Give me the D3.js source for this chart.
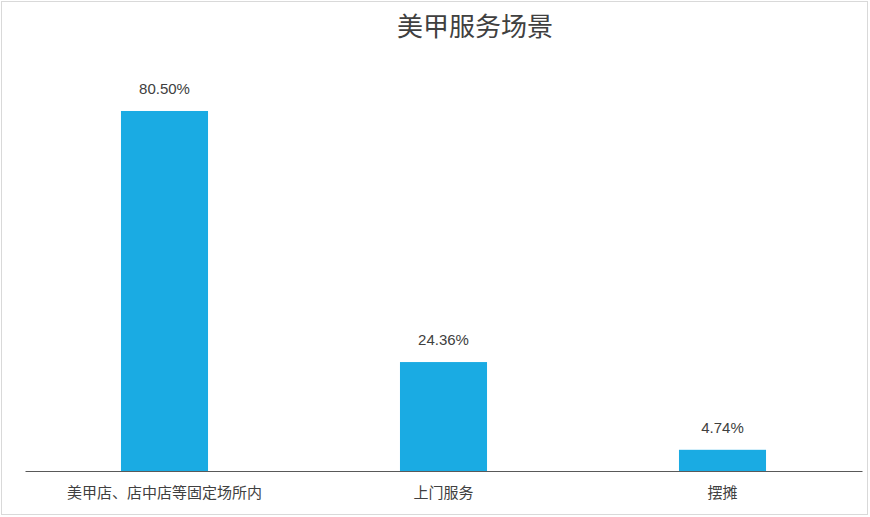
<!DOCTYPE html>
<html><head><meta charset="utf-8">
<script src="https://cdn.jsdelivr.net/npm/d3@7"></script>
<style>body{margin:0;background:#fff}</style></head>
<body><svg id="c" width="870" height="517"></svg>
<script>
const categories=["美甲店、店中店等固定场所内","上门服务","摆摊"];
const values=[80.50,24.36,4.74];
const labels=["80.50%","24.36%","4.74%"];
const svg=d3.select("#c");
svg.append("rect").attr("x",1.5).attr("y",1.5).attr("width",866).attr("height",513).attr("fill","#fff").attr("stroke","#d9d9d9");
svg.append("text").attr("x",475).attr("y",36).attr("text-anchor","middle").attr("font-family","Noto Sans CJK SC").attr("font-size",26).attr("fill","#404040").text("美甲服务场景");
const x=d3.scaleBand().domain(categories).range([25,862]).paddingInner(0.688).paddingOuter(0.344);
const y=d3.scaleLinear().domain([0,90]).range([471,68.5]);
svg.selectAll(".bar").data(values).join("rect").attr("x",(d,i)=>x(categories[i])).attr("y",d=>y(d)).attr("width",x.bandwidth()).attr("height",d=>y(0)-y(d)).attr("fill","#1aabe3");
svg.selectAll(".lab").data(values).join("text").attr("x",(d,i)=>x(categories[i])+x.bandwidth()/2).attr("y",d=>y(d)-17).attr("text-anchor","middle").attr("font-family","Liberation Sans, Noto Sans CJK SC").attr("font-size",15).attr("fill","#404040").text((d,i)=>labels[i]);
const ax=svg.append("g").attr("transform","translate(0,471)").call(d3.axisBottom(x).tickSize(0).tickPadding(16));
ax.select(".domain").attr("stroke","#595959");
ax.selectAll("text").attr("font-family","Noto Sans CJK SC").attr("font-size",15).attr("fill","#404040");
</script></body></html>
